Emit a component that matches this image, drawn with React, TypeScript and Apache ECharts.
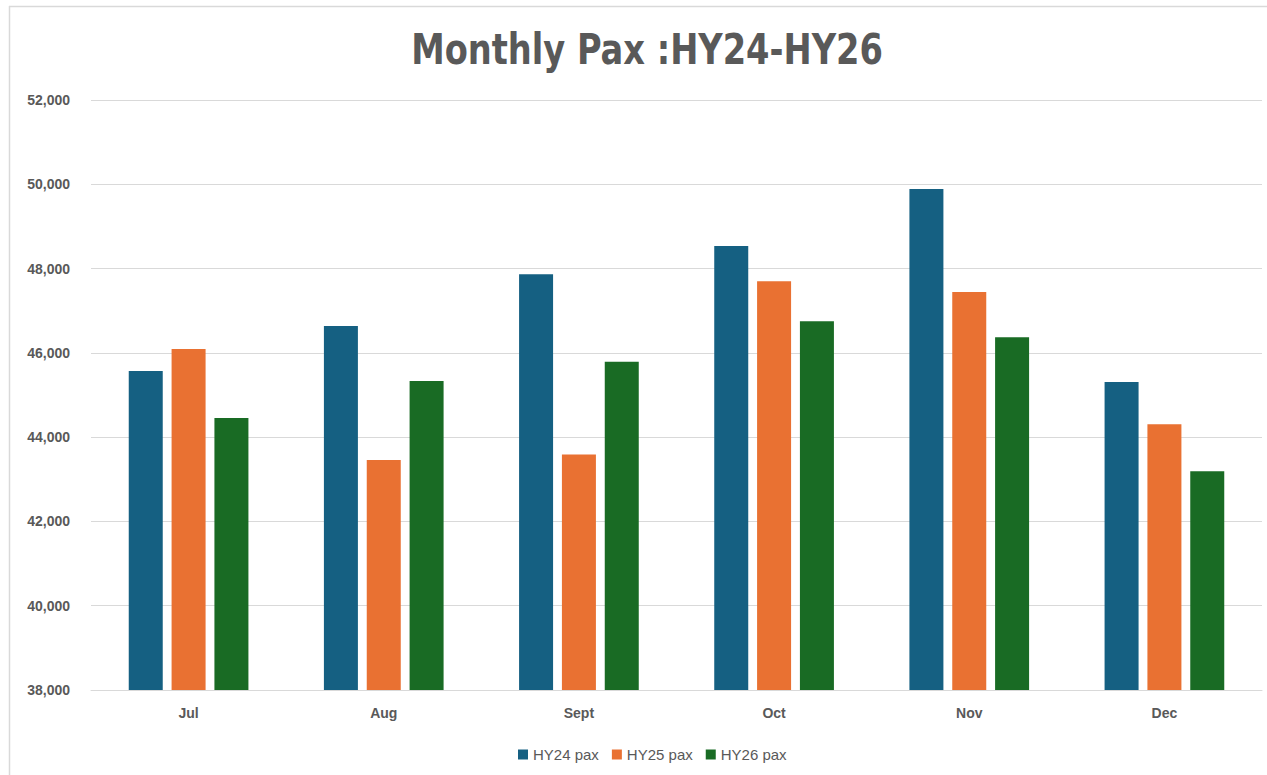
import React, { useEffect, useRef } from "react";
import * as echarts from "echarts";

const titleText = "Monthly Pax :HY24-HY26";
const months = ["Jul", "Aug", "Sept", "Oct", "Nov", "Dec"];
const seriesNames = ["HY24 pax", "HY25 pax", "HY26 pax"];
const hy24 = [45570, 46640, 47865, 48535, 49890, 45310];
const hy25 = [46090, 43460, 43590, 47700, 47445, 44305];
const hy26 = [44455, 45330, 45790, 46750, 46370, 43190];
const colors = ["#156082", "#E97132", "#196B24"];
const yMin = 38000;
const yMax = 52000;
const yStep = 2000;

export default function App() {
  const ref = useRef<HTMLDivElement>(null);
  useEffect(() => {
    if (!ref.current) return;
    const chart = echarts.init(ref.current, null, { renderer: "svg" });
    const data = [hy24, hy25, hy26];
    chart.setOption({
      animation: false,
      backgroundColor: "#ffffff",
      graphic: [
        { type: "line", shape: { x1: 9, y1: 6.5, x2: 1267, y2: 6.5 }, style: { stroke: "#D9D9D9", lineWidth: 1.5 } },
        { type: "line", shape: { x1: 9.5, y1: 6, x2: 9.5, y2: 775 }, style: { stroke: "#D9D9D9", lineWidth: 1.5 } },
        {
          type: "text",
          x: 647,
          y: 50,
          scaleX: 0.87,
          style: {
            text: titleText,
            textAlign: "center",
            textVerticalAlign: "middle",
            fontFamily: "DejaVu Sans Condensed, sans-serif",
            fontSize: 43,
            fontWeight: "bold",
            fill: "#595959",
          },
        },
      ],
      legend: {
        data: seriesNames,
        left: 513,
        top: 742,
        itemWidth: 10,
        itemHeight: 10,
        itemGap: 13,
        icon: "rect",
        textStyle: { fontFamily: "Liberation Sans, sans-serif", fontSize: 15, color: "#595959" },
      },
      grid: { left: 91, right: 5, top: 100, bottom: 85 },
      xAxis: {
        type: "category",
        data: months,
        axisLine: { show: true, lineStyle: { color: "#D9D9D9" } },
        axisTick: { show: false },
        axisLabel: {
          margin: 16,
          fontFamily: "Liberation Sans, sans-serif",
          fontSize: 14,
          fontWeight: "bold",
          color: "#595959",
        },
      },
      yAxis: {
        type: "value",
        min: yMin,
        max: yMax,
        interval: yStep,
        axisLine: { show: false },
        axisTick: { show: false },
        splitLine: { lineStyle: { color: "#D9D9D9" } },
        axisLabel: {
          margin: 21,
          fontFamily: "Liberation Sans, sans-serif",
          fontSize: 14,
          fontWeight: "bold",
          color: "#595959",
          formatter: (v: number) => v.toLocaleString("en-US"),
        },
      },
      series: seriesNames.map((name, i) => ({
        name,
        type: "bar",
        data: data[i],
        barWidth: 34,
        barGap: "26%",
        itemStyle: { color: colors[i] },
      })),
    });
    return () => chart.dispose();
  }, []);
  return (
    <div
      ref={ref}
      style={{ position: "fixed", left: 0, top: 0, width: 1267, height: 775 }}
    />
  );
}
